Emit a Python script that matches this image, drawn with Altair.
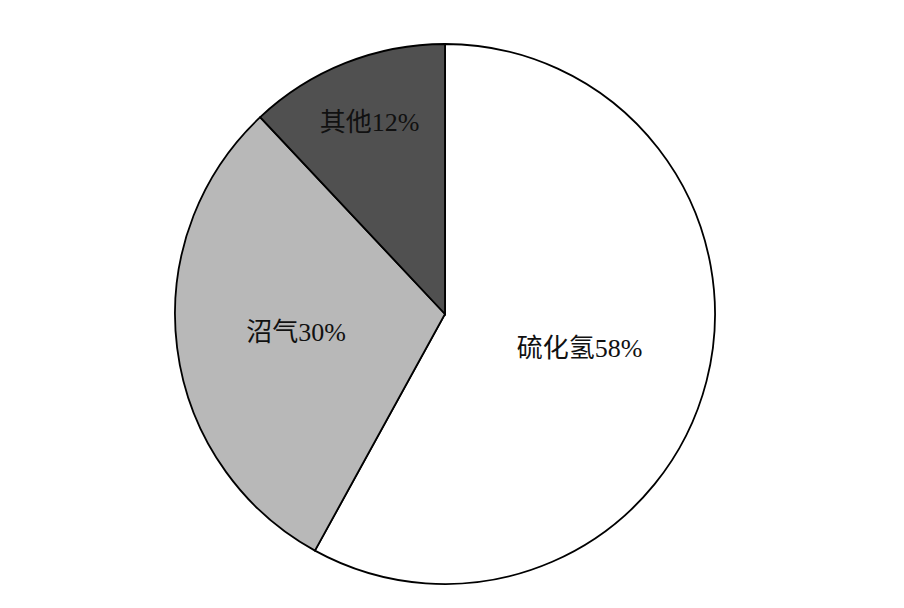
import altair as alt
import pandas as pd

categories = ["硫化氢", "沼气", "其他"]
values = [58, 30, 12]
colors = ["#ffffff", "#b8b8b8", "#505050"]

df = pd.DataFrame({"cat": categories, "val": values, "order": [0, 1, 2]})
df["label"] = [f"{c}{v}%" for c, v in zip(categories, values)]

CX, CY, R = 437, 306, 270

arcs = alt.Chart(df).mark_arc(stroke="black", strokeWidth=1.8).encode(
    theta=alt.Theta("val:Q", stack=True),
    order=alt.Order("order:Q"),
    color=alt.Color("cat:N", scale=alt.Scale(domain=categories, range=colors), legend=None),
    x=alt.value(CX), y=alt.value(CY), radius=alt.value(R),
)

font = "Liberation Serif, Noto Sans CJK SC"
label_r = {"硫化氢": 139, "沼气": 150, "其他": 205}

labels = [
    alt.Chart(df).transform_joinaggregate(total="sum(val)")
    .transform_window(cum="sum(val)", sort=[alt.SortField("order")], frame=[None, 0])
    .transform_calculate(mid="(datum.cum - datum.val/2)/datum.total*2*PI")
    .transform_filter(alt.datum.cat == c)
    .transform_calculate(
        mx=f"{CX} + {label_r[c]}*sin(datum.mid)",
        my=f"{CY} - {label_r[c]}*cos(datum.mid)",
    )
    .mark_text(font=font, fontSize=26, color="#111111")
    .encode(
        text="label:N",
        x=alt.X("mx:Q", scale=None),
        y=alt.Y("my:Q", scale=None),
    )
    for c in categories
]

chart = alt.layer(arcs, *labels).properties(
    width=888, height=592,
    autosize=alt.AutoSizeParams(type="none"),
    padding=0,
).configure_view(stroke=None)

chart.save("out.html", embed_options={"renderer": "svg", "actions": False})
